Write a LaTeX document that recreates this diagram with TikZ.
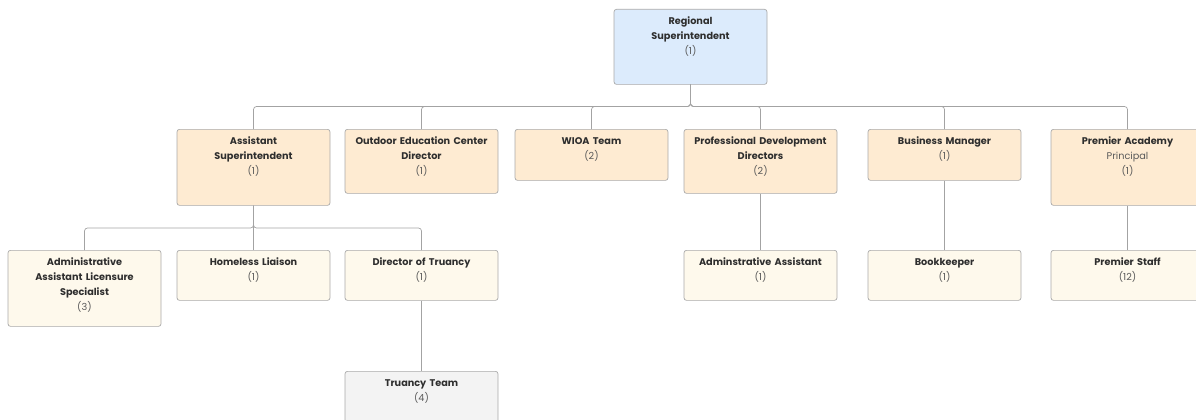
\documentclass[tikz,border=0pt]{standalone}
\usepackage{fontspec}
\setmainfont{Poppins}
\definecolor{boxline}{HTML}{A9A9A9}
\definecolor{connc}{HTML}{A3A3A3}
\definecolor{rootfill}{HTML}{DCEBFC}
\definecolor{lvtwo}{HTML}{FEEBD2}
\definecolor{lvthree}{HTML}{FEF9EC}
\definecolor{lvfour}{HTML}{F3F3F3}
\definecolor{titlec}{HTML}{2E2E2E}
\definecolor{subc}{HTML}{5A5A5A}
\newcommand{\ttl}[1]{{\bfseries\color{titlec}#1}}
\newcommand{\sbt}[1]{{\color{subc}#1}}
\begin{document}
\begin{tikzpicture}[x=1pt,y=-1pt,
  box/.style={draw=boxline, rounded corners=2.5pt, line width=0.7pt, minimum width=153pt, anchor=north, inner sep=0pt},
  txt/.style={anchor=north, align=center, text width=150pt, font=\fontsize{9.7}{15}\selectfont, inner sep=0pt, execute at begin node={\rule{0pt}{9pt}}},
  conn/.style={draw=connc, line width=0.7pt, rounded corners=3pt}]
\useasboundingbox (0,0) rectangle (1196,420);
\clip (0,0) rectangle (1196,420);
% root
\node[box, fill=rootfill, minimum height=75pt] (rs) at (690.5,9) {};
\node[txt] (rst) at ([yshift=-6pt]rs.north) {\ttl{Regional\\Superintendent}\\\sbt{(1)}};
% level 2
\node[box, fill=lvtwo, minimum height=76pt] (as) at (253.5,129) {};
\node[txt] (ast) at ([yshift=-6pt]as.north) {\ttl{Assistant\\Superintendent}\\\sbt{(1)}};
\node[box, fill=lvtwo, minimum height=64pt] (oe) at (421.5,129) {};
\node[txt] (oet) at ([yshift=-6pt]oe.north) {\ttl{Outdoor Education Center\\Director}\\\sbt{(1)}};
\node[box, fill=lvtwo, minimum height=51pt] (wi) at (591.5,129) {};
\node[txt] (wit) at ([yshift=-6pt]wi.north) {\ttl{WIOA Team}\\\sbt{(2)}};
\node[box, fill=lvtwo, minimum height=64pt] (pd) at (760.5,129) {};
\node[txt] (pdt) at ([yshift=-6pt]pd.north) {\ttl{Professional Development\\Directors}\\\sbt{(2)}};
\node[box, fill=lvtwo, minimum height=51pt] (bm) at (944.5,129) {};
\node[txt] (bmt) at ([yshift=-6pt]bm.north) {\ttl{Business Manager}\\\sbt{(1)}};
\node[box, fill=lvtwo, minimum height=76pt] (pa) at (1127.5,129) {};
\node[txt] (pat) at ([yshift=-6pt]pa.north) {\ttl{Premier Academy}\\\sbt{Principal}\\\sbt{(1)}};
% level 3
\node[box, fill=lvthree, minimum height=76pt] (aa) at (84.5,250) {};
\node[txt] (aat) at ([yshift=-6pt]aa.north) {\ttl{Administrative\\Assistant Licensure\\Specialist}\\\sbt{(3)}};
\node[box, fill=lvthree, minimum height=50pt] (hl) at (253.5,250) {};
\node[txt] (hlt) at ([yshift=-6pt]hl.north) {\ttl{Homeless Liaison}\\\sbt{(1)}};
\node[box, fill=lvthree, minimum height=50pt] (dt) at (421.5,250) {};
\node[txt] (dtt) at ([yshift=-6pt]dt.north) {\ttl{Director of Truancy}\\\sbt{(1)}};
\node[box, fill=lvthree, minimum height=50pt] (ad) at (760.5,250) {};
\node[txt] (adt) at ([yshift=-6pt]ad.north) {\ttl{Adminstrative Assistant}\\\sbt{(1)}};
\node[box, fill=lvthree, minimum height=50pt] (bk) at (944.5,250) {};
\node[txt] (bkt) at ([yshift=-6pt]bk.north) {\ttl{Bookkeeper}\\\sbt{(1)}};
\node[box, fill=lvthree, minimum height=50pt] (ps) at (1127.5,250) {};
\node[txt] (pst) at ([yshift=-6pt]ps.north) {\ttl{Premier Staff}\\\sbt{(12)}};
% level 4
\node[box, fill=lvfour, minimum height=60pt] (tt) at (421.5,371) {};
\node[txt] (ttt) at ([yshift=-6pt]tt.north) {\ttl{Truancy Team}\\\sbt{(4)}};
% connectors
\foreach \c in {as,oe,wi,pd,bm,pa}{
  \draw[conn] (rs.south) -- (rs.south |- 0,106.5) -| (\c.north);
}
\foreach \c in {aa,hl,dt}{
  \draw[conn] (as.south) -- (as.south |- 0,228) -| (\c.north);
}
\draw[conn] (dt.south) -- (tt.north);
\draw[conn] (pd.south) -- (ad.north);
\draw[conn] (bm.south) -- (bk.north);
\draw[conn] (pa.south) -- (ps.north);
\end{tikzpicture}
\end{document}
